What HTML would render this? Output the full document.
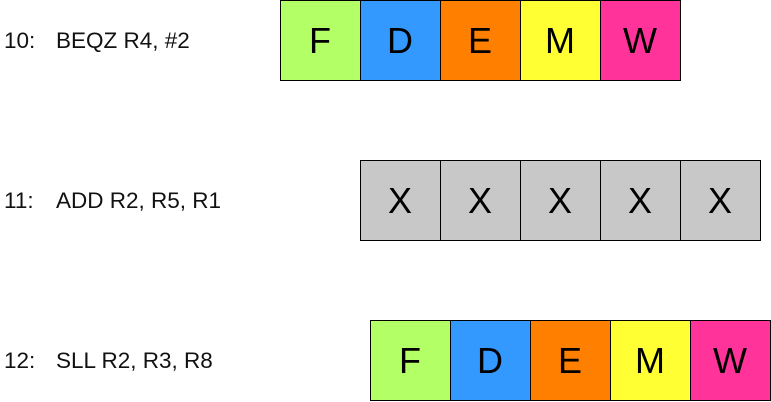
<!DOCTYPE html>
<html><head><meta charset="utf-8"><style>
html,body{margin:0;padding:0;background:#fff;}
svg{display:block;font-family:"Liberation Sans",Arial,sans-serif;}
</style></head><body>
<svg id="chart" width="771" height="402" viewBox="0 0 771 402"></svg>
<script>
const labels = ["10:", "11:", "12:"];
const instrs = ["BEQZ R4, #2", "ADD R2, R5, R1", "SLL R2, R3, R8"];
const startCycle = [3.5, 4.5, 4.625];
const stages = [["F","D","E","M","W"],["X","X","X","X","X"],["F","D","E","M","W"]];
const colors = {F:"#b3ff66",D:"#3399ff",E:"#ff8000",M:"#ffff33",W:"#ff3399",X:"#c8c8c8"};
const svg = document.getElementById('chart');
const NS = "http://www.w3.org/2000/svg";
const cw = 80, rowH = 160;
function xPos(c){return c*cw;}
function yPos(r){return r*rowH;}
labels.forEach((lab,r)=>{
  const y0 = yPos(r);
  const t1 = document.createElementNS(NS,'text');
  
  
  t1.setAttribute('x',4);t1.setAttribute('y',y0+48);t1.setAttribute('font-size','22.5');t1.setAttribute('fill','#111');
  t1.textContent = lab; svg.appendChild(t1);
  const t2 = document.createElementNS(NS,'text');
  
  
  t2.setAttribute('x',56);t2.setAttribute('y',y0+48);t2.setAttribute('font-size','22.5');t2.setAttribute('fill','#111');
  t2.textContent = instrs[r]; svg.appendChild(t2);
  stages[r].forEach((s,i)=>{
    const x = xPos(startCycle[r]+i);
    const rect = document.createElementNS(NS,'rect');
    
    
    rect.setAttribute('x',x+0.5);rect.setAttribute('y',y0+0.5);rect.setAttribute('width',cw);rect.setAttribute('height',80);
    rect.setAttribute('fill',colors[s]);rect.setAttribute('stroke','#000');rect.setAttribute('stroke-width','1');
    svg.appendChild(rect);
    const t = document.createElementNS(NS,'text');
    
    
    t.setAttribute('x',x+cw/2);t.setAttribute('y',y0+53);t.setAttribute('font-size','36');t.setAttribute('text-anchor','middle');t.setAttribute('fill','#000');
    t.textContent = s; svg.appendChild(t);
  });
});
</script>
</body></html>
